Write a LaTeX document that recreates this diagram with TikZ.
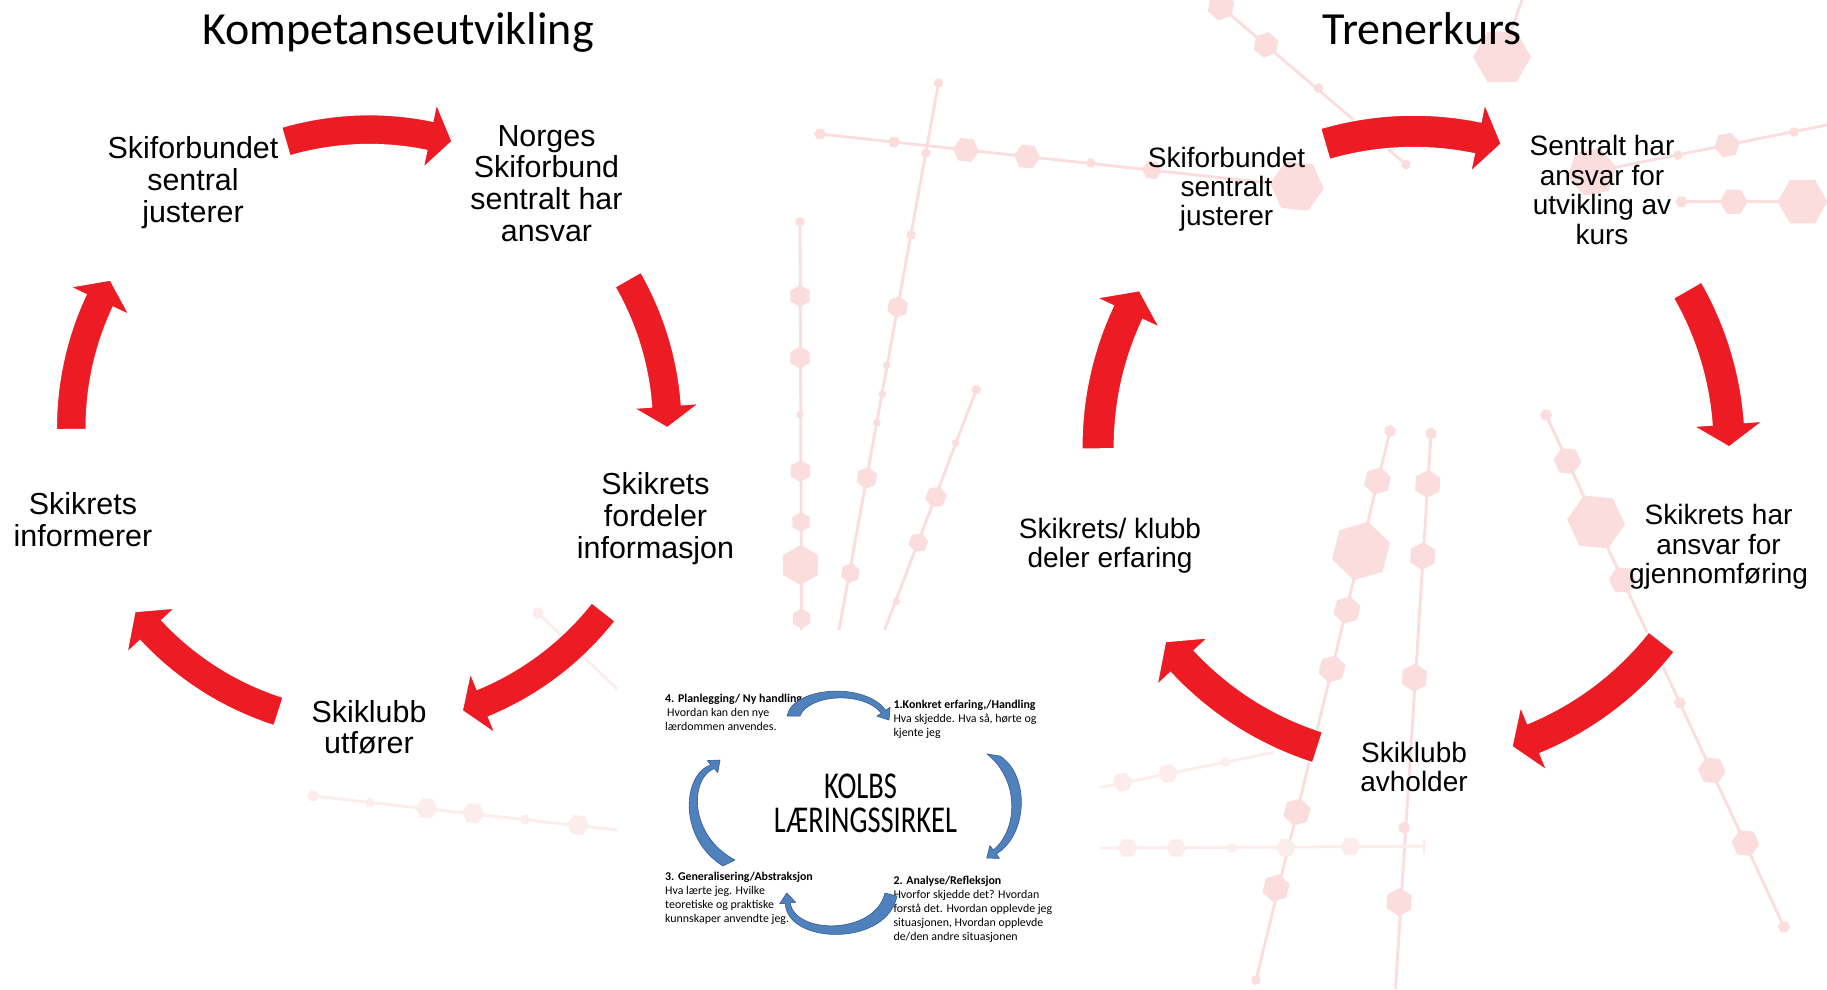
\documentclass[tikz,border=0pt]{standalone}
\usepackage{fontspec}
\usepackage{graphicx}
\newfontfamily\arialf{Liberation Sans}
\newfontfamily\calib{Carlito}
\usetikzlibrary{arrows.meta}
\definecolor{arrowred}{RGB}{237,28,36}
\definecolor{bghex}{RGB}{252,221,222}
\definecolor{bgpale}{RGB}{253,236,236}
\definecolor{kolbblue}{RGB}{79,129,189}
\definecolor{kolbedge}{RGB}{52,92,148}

% red circular arrow: cx, cy, R, half band width, head half width, tail angle, head-base angle, tip angle
\newcommand{\cyclearrow}[8]{%
  \pgfmathsetmacro\cyRo{#3+#4}%
  \pgfmathsetmacro\cyRi{#3-#4}%
  \pgfmathsetmacro\cyRbo{#3+#5}%
  \pgfmathsetmacro\cyRbi{#3-#5}%
  \filldraw[redarrow] plot[domain=#6:#7,samples=40] ({#1+\cyRo*cos(\x)},{#2+\cyRo*sin(\x)})
   -- ({#1+\cyRbo*cos(#7)},{#2+\cyRbo*sin(#7)})
   -- ({#1+#3*cos(#8)},{#2+#3*sin(#8)})
   -- ({#1+\cyRbi*cos(#7)},{#2+\cyRbi*sin(#7)})
   -- plot[domain=#7:#6,samples=40] ({#1+\cyRi*cos(\x)},{#2+\cyRi*sin(\x)})
   -- cycle;}
% hexagon: [colour] x, y, radius, rotation
\newcommand{\hx}[5][bghex]{\fill[#1] plot[samples at={0,60,...,300}] ({#2+#4*cos(\x+#5)},{#3+#4*sin(\x+#5)}) -- cycle;}

\begin{document}
\begin{tikzpicture}[x=1pt,y=-1pt,
  redarrow/.style={fill=arrowred, draw=white, line width=1.5pt, line join=miter},
  bgl/.style={draw=bghex, line width=2.8pt},
  bgp/.style={draw=bgpale, line width=2.8pt},
  lbl/.style={font=\arialf\fontsize{30.4}{31.8}\selectfont, align=center, inner sep=0pt},
  lblr/.style={font=\arialf\fontsize{28}{29.4}\selectfont, align=center, inner sep=0pt},
  ttl/.style={font=\calib\fontsize{46}{50}\selectfont, inner sep=0pt, anchor=base},
  kt/.style={font=\calib\fontsize{11.9}{14}\selectfont, align=left, inner sep=0pt, anchor=west},
  kolbarr/.style={fill=kolbblue, draw=kolbedge, line width=0.6pt, line join=round}
]
\useasboundingbox (0,0) rectangle (1827,989);
\fill[white] (0,0) rectangle (1827,989);

% ---------- background network ----------
% L1
\draw[bgl] (820,134) -- (1297,186);
\hx{820}{134}{6}{6}\hx{894}{142}{6}{6}\hx{966}{150}{13}{6}\hx{1027}{156.5}{13}{6}
\hx{1091}{163}{5}{6}\hx{1152}{170}{10}{6}\hx{1297}{186}{27}{6}
% V1
\draw[bgl] (938.5,83) -- (839,630);
\hx{938.5}{83}{5}{100}\hx{925.9}{153}{5}{100}\hx{911}{235}{5}{100}\hx{897.7}{307}{11}{100}
\hx{886.8}{365}{4}{100}\hx{882.2}{394}{4}{100}\hx{876.8}{423}{4}{100}\hx{866.9}{478}{11}{100}
\hx{850.3}{573}{10}{100}
% V2
\draw[bgl] (800,222) -- (801.5,630);
\hx{800}{222}{5}{90}\hx{800}{296}{11}{90}\hx{800}{357.5}{11}{90}\hx{800}{414.6}{4}{90}
\hx{800.5}{471}{11}{90}\hx{801}{522}{10}{90}\hx{800.5}{565}{20}{90}\hx{801.5}{618.6}{10}{90}
% V3
\draw[bgl] (976.3,389.7) -- (884.6,630);
\hx{976.3}{389.7}{5}{111}\hx{955.6}{443}{4}{111}\hx{936}{497}{11}{111}\hx{918.3}{542.7}{10}{111}
\hx{896.4}{601.7}{4}{111}
% D1
\draw[bgl] (1213,0) -- (1406,164.5);
\hx{1221}{6.6}{14}{40}\hx{1266}{44.8}{13}{40}\hx{1318.5}{88}{5}{40}\hx{1406}{164.5}{5}{40}
% top hexagon
\draw[bgl] (1502,57) -- (1522,0);
\hx{1502}{57}{29}{0}
% D2
\draw[bgl] (1592,172) -- (1827,125);
\hx{1592}{172}{25}{-11}\hx{1678}{155.3}{5}{-11}\hx{1727}{145}{13}{-11}\hx{1794}{132}{5}{-11}
% D3
\draw[bgl] (1681.5,201.7) -- (1827,201.7);
\hx{1681.5}{201.7}{6}{0}\hx{1733.6}{201.7}{14}{0}\hx{1802.5}{201.7}{25}{0}
% line A
\draw[bgl] (1390,431) -- (1256,980);
\hx{1390}{431}{6}{104}\hx{1377.5}{481}{14}{104}\hx{1361}{551}{30}{104}\hx{1347}{610}{14}{104}
\hx{1332}{669}{14}{104}\hx{1297}{812}{14}{104}\hx{1276}{888}{14}{104}\hx{1256}{980}{5}{104}
% line B
\draw[bgl] (1431,433.5) -- (1395.5,989);
\hx{1431}{433.5}{6}{94}\hx{1427.7}{484}{14}{94}\hx{1422.7}{556}{14}{94}\hx{1414.3}{677.6}{14}{94}
\hx{1404.2}{827.7}{6}{94}\hx{1399.2}{902}{14}{94}
% line C
\draw[bgl] (1546,415) -- (1784,927);
\hx{1546}{415}{6}{65}\hx{1567.5}{461}{14}{65}\hx{1596}{522}{29}{65}\hx{1622.7}{580}{14}{65}
\hx{1679.8}{703}{6}{65}\hx{1711.8}{770.4}{14}{65}\hx{1745.4}{843}{14}{65}\hx{1784}{927}{6}{65}
% H1, H2 (pale)
\draw[bgp] (1100.5,787.3) -- (1274,752.5);
\hx[bgpale]{1122.4}{782.2}{10}{-11}\hx[bgpale]{1168}{773.8}{10}{-11}\hx[bgpale]{1225.3}{762}{5}{-11}
\draw[bgp] (1100.5,848) -- (1424,846.3);
\hx[bgpale]{1127.5}{848}{10}{0}\hx[bgpale]{1176.4}{848}{10}{0}\hx[bgpale]{1232}{848}{5}{0}
\hx[bgpale]{1286}{847.5}{10}{0}\hx[bgpale]{1350.4}{846.5}{10}{0}
\draw[bgp] (1424,839) -- (1424,854);
% lower left (pale)
\draw[bgp] (313,796) -- (617,830);
\hx[bgpale]{313.3}{795.7}{6}{6}\hx[bgpale]{370}{802.7}{5}{6}\hx[bgpale]{426.7}{808.3}{11}{6}
\hx[bgpale]{473.3}{813.3}{11}{6}\hx[bgpale]{525}{819.3}{5}{6}\hx[bgpale]{578.3}{825}{11}{6}
\draw[bgp] (538,613) -- (617,689);
\hx[bgpale]{538}{613}{6}{44}

% ---------- titles ----------
\node[ttl] (t1) at (398,44) {Kompetanseutvikling};
\node[ttl] (t2) at (1422,44) {Trenerkurs};

% ---------- left cycle ----------
\coordinate (lc) at (369.3,427.6);
\cyclearrow{369.3}{427.6}{298}{15}{33}{-106.3}{-78.3}{-73.85}
\cyclearrow{369.3}{427.6}{298}{15}{33}{-29.8}{-4.2}{0.05}
\cyclearrow{369.3}{427.6}{298}{15}{33}{38.2}{67.6}{71.85}
\cyclearrow{369.3}{427.6}{298}{15}{33}{107.7}{137.1}{141.9}
\cyclearrow{369.3}{427.6}{298}{15}{33}{179.6}{205.15}{209.7}
\node[lbl] (n1) at (193,182.7) {Skiforbundet\\sentral\\justerer};
\node[lbl] (n2) at (546.5,183.4) {Norges\\Skiforbund\\sentralt har\\ansvar};
\node[lbl] (n3) at (655.5,518.7) {Skikrets\\fordeler\\informasjon};
\node[lbl] (n4) at (369,727.2) {Skiklubb\\utfører};
\node[lbl] (n5) at (83,519.4) {Skikrets\\informerer};

% ---------- right cycle ----------
\coordinate (rc) at (1413.6,446.8);
\cyclearrow{1413.6}{446.8}{315.5}{16.3}{35}{-106.3}{-78.3}{-73.85}
\cyclearrow{1413.6}{446.8}{315.5}{16.3}{35}{-29.8}{-4.2}{0.05}
\cyclearrow{1413.6}{446.8}{315.5}{16.3}{35}{38.2}{67.6}{71.85}
\cyclearrow{1413.6}{446.8}{315.5}{16.3}{35}{107.7}{137.1}{141.9}
\cyclearrow{1413.6}{446.8}{315.5}{16.3}{35}{179.6}{205.15}{209.7}
\node[lblr] (m1) at (1226.5,189.2) {Skiforbundet\\sentralt\\justerer};
\node[lblr] (m2) at (1602,190) {Sentralt har\\ansvar for\\utvikling av\\kurs};
\node[lblr] (m3) at (1718.5,546.8) {Skikrets har\\ansvar for\\gjennomføring};
\node[lblr] (m4) at (1414,767) {Skiklubb\\avholder};
\node[lblr] (m5) at (1110,546) {Skikrets/ klubb\\deler erfaring};

% ---------- Kolb ----------
\node[inner sep=0pt] (kolb) at (865.5,807.5) {\scalebox{1}[1.33]{\calib\fontsize{28.5}{23.8}\selectfont\begin{tabular}{@{}c@{}}KOLBS\hspace*{10pt}\\LÆRINGSSIRKEL\end{tabular}}};
\node[kt] (k4) at (665,712.5) {\textbf{4. Planlegging/ Ny handling}\\\hspace*{2pt}Hvordan kan den nye\\lærdommen anvendes.};
\node[kt] (k1) at (893.3,719) {\textbf{1.Konkret erfaring,/Handling}\\Hva skjedde. Hva så, hørte og\\kjente jeg};
\node[kt] (k3) at (665,898.7) {\textbf{3. Generalisering/Abstraksjon}\\Hva lærte jeg. Hvilke\\teoretiske og praktiske\\kunnskaper anvendte jeg.};
\node[kt] (k2) at (893.3,909.7) {\textbf{2. Analyse/Refleksjon}\\Hvorfor skjedde det? Hvordan\\forstå det. Hvordan opplevde jeg\\situasjonen, Hvordan opplevde\\de/den andre situasjonen};
% top curved arrow
\filldraw[kolbarr] (787,716) .. controls (793,686) and (866,682) .. (885.6,710.3)
  -- (890.1,707.3) -- (889,720) -- (876.9,716.1) -- (881.4,713.1)
  .. controls (862,690) and (808,695) .. (800,716) -- cycle;
% right curved arrow
\filldraw[kolbarr] (1000,756) .. controls (1030,775) and (1028,835) .. (996.2,854)
  -- (999.5,858.4) -- (986.7,858) -- (989.9,845.6) -- (993.2,850)
  .. controls (1018,830) and (1020,780) .. (987,754) -- cycle;
% bottom curved arrow
\filldraw[kolbarr] (897,896) .. controls (887,947) and (787,945) .. (785.2,903.25)
  -- (779.7,903.8) -- (786.7,893) -- (795.7,902.2) -- (790.2,902.75)
  .. controls (795,935) and (875,935) .. (885,893) -- cycle;
% left curved arrow
\filldraw[kolbarr] (723,866) .. controls (678,838) and (682,775) .. (710.85,764.7)
  -- (707.2,760.6) -- (720,760) -- (717.8,772.6) -- (714.15,768.5)
  .. controls (690,778) and (688,835) .. (735,860) -- cycle;
\end{tikzpicture}
\end{document}
